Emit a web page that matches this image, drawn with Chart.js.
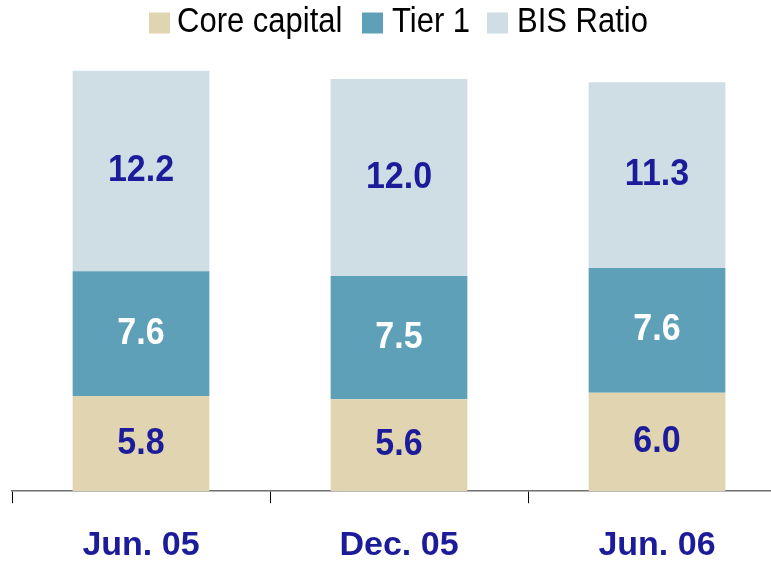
<!DOCTYPE html>
<html>
<head>
<meta charset="utf-8">
<script src="https://cdn.jsdelivr.net/npm/chart.js@4"></script>
<style>
  html, body { margin: 0; padding: 0; background: #fff; overflow: hidden; }
  #wrap { width: 800px; height: 561px; }
</style>
</head>
<body>
<div id="wrap"><canvas id="capitalChart" width="800" height="561"></canvas></div>
<script>
// --- Data ---
const periods = ['Jun. 05', 'Dec. 05', 'Jun. 06'];
const coreCapital = [5.8, 5.6, 6.0];
const tier1 = [7.6, 7.5, 7.6];
const bisRatio = [12.2, 12.0, 11.3];

const FONT = 'Arial, "Liberation Sans", sans-serif';
const NAVY = '#1c1c9a';

// text in the source slide is a little taller than it is wide
function tallText(ctx, text, x, y, stretch) {
    ctx.save();
    ctx.translate(x, y);
    ctx.scale(1, stretch);
    ctx.fillText(text, 0, 0);
    ctx.restore();
}

// draws the value in the middle of each bar segment
const segmentLabels = {
    id: 'segmentLabels',
    afterDatasetsDraw(chart) {
        const ctx = chart.ctx;
        ctx.save();
        ctx.font = 'bold 34px ' + FONT;
        ctx.textAlign = 'center';
        ctx.textBaseline = 'middle';
        chart.data.datasets.forEach((ds, i) => {
            const meta = chart.getDatasetMeta(i);
            ctx.fillStyle = ds.labelColor;
            meta.data.forEach((bar, j) => {
                tallText(ctx, ds.data[j].toFixed(1), bar.x, (bar.y + bar.base) / 2, 1.07);
            });
        });
        ctx.restore();
    }
};

// legend row laid out like the original slide
const legendBoxX = [149, 362, 487];
const topLegend = {
    id: 'topLegend',
    afterDraw(chart) {
        const ctx = chart.ctx;
        const box = 21, midY = 23;
        ctx.save();
        ctx.font = '31px ' + FONT;
        ctx.textBaseline = 'middle';
        chart.data.datasets.forEach((ds, i) => {
            const x = legendBoxX[i];
            ctx.fillStyle = ds.backgroundColor;
            ctx.fillRect(x, midY - box / 2, box, box);
            ctx.fillStyle = '#000';
            tallText(ctx, ds.label, x + box + (i === 0 ? 7 : 9), midY - 1, 1.12);
        });
        ctx.restore();
    }
};

new Chart(document.getElementById('capitalChart'), {
    type: 'bar',
    data: {
        labels: periods,
        datasets: [
            { label: 'Core capital', data: coreCapital, backgroundColor: '#e0d5b0', labelColor: NAVY },
            { label: 'Tier 1', data: tier1, backgroundColor: '#5fa0b9', labelColor: '#ffffff' },
            { label: 'BIS Ratio', data: bisRatio, backgroundColor: '#cfdde5', labelColor: NAVY }
        ]
    },
    options: {
        responsive: false,
        animation: false,
        datasets: {
            bar: { barPercentage: 0.53, categoryPercentage: 1.0 }
        },
        layout: { padding: { left: 12, right: 14, top: 49.5, bottom: -27 } },
        plugins: {
            tooltip: { enabled: false },
            legend: { display: false }
        },
        scales: {
            x: {
                stacked: true,
                border: { color: '#6e6e6e', width: 1.5 },
                grid: { drawOnChartArea: false, offset: true, tickLength: 12, color: '#000' },
                ticks: { color: NAVY, padding: 22, font: { family: FONT, size: 34, weight: 'bold' } }
            },
            y: {
                stacked: true,
                display: false,
                min: 0,
                max: 26.9
            }
        }
    },
    plugins: [segmentLabels, topLegend]
});
</script>
</body>
</html>
